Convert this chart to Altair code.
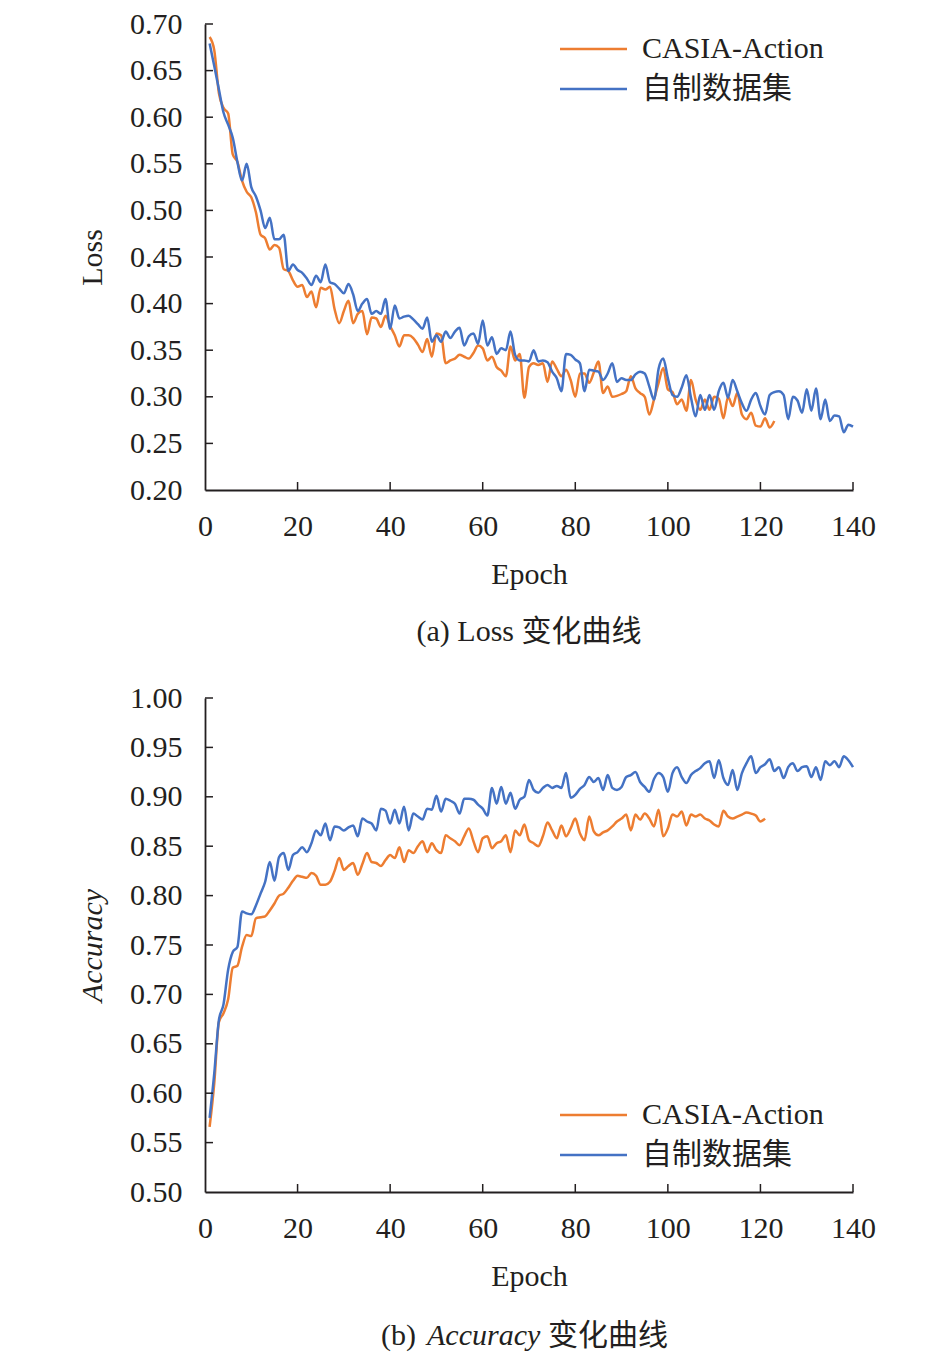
import pandas as pd
import altair as alt

FONT = "Liberation Serif, Times New Roman, Noto Sans CJK SC"
SERIES = ["CASIA-Action", "自制数据集"]
COLORS = ["#ED7D31", "#4472C4"]

# Loss per epoch
loss_casia = [
    0.686, 0.672, 0.626, 0.610, 0.604, 0.560, 0.552, 0.532, 0.520, 0.514,
    0.498, 0.474, 0.470, 0.458, 0.463, 0.460, 0.437, 0.435, 0.425, 0.418,
    0.420, 0.407, 0.413, 0.396, 0.417, 0.415, 0.418, 0.394, 0.379, 0.392,
    0.403, 0.379, 0.389, 0.392, 0.367, 0.385, 0.384, 0.375, 0.387, 0.376,
    0.366, 0.354, 0.366, 0.366, 0.363, 0.356, 0.348, 0.362, 0.343, 0.368,
    0.366, 0.336, 0.339, 0.341, 0.345, 0.343, 0.341, 0.347, 0.355, 0.352,
    0.339, 0.343, 0.332, 0.328, 0.322, 0.354, 0.339, 0.346, 0.299, 0.332,
    0.336, 0.334, 0.336, 0.316, 0.338, 0.330, 0.322, 0.329, 0.318, 0.300,
    0.325, 0.325, 0.315, 0.326, 0.338, 0.304, 0.311, 0.300, 0.301, 0.303,
    0.306, 0.322, 0.309, 0.304, 0.300, 0.281, 0.297, 0.315, 0.331, 0.308,
    0.305, 0.292, 0.297, 0.285, 0.318, 0.297, 0.286, 0.297, 0.286, 0.300,
    0.298, 0.277, 0.300, 0.290, 0.304, 0.281, 0.276, 0.283, 0.269, 0.268,
    0.277, 0.267, 0.274,
]
loss_own = [
    0.679, 0.655, 0.630, 0.605, 0.592, 0.578, 0.552, 0.532, 0.550, 0.525,
    0.515, 0.500, 0.481, 0.492, 0.469, 0.469, 0.474, 0.435, 0.442, 0.436,
    0.433, 0.427, 0.420, 0.430, 0.423, 0.442, 0.423, 0.421, 0.416, 0.411,
    0.421, 0.410, 0.392, 0.400, 0.405, 0.389, 0.392, 0.389, 0.405, 0.373,
    0.398, 0.384, 0.386, 0.387, 0.383, 0.378, 0.373, 0.385, 0.359, 0.366,
    0.359, 0.370, 0.363, 0.370, 0.374, 0.355, 0.365, 0.368, 0.357, 0.382,
    0.355, 0.364, 0.346, 0.352, 0.350, 0.370, 0.345, 0.339, 0.339, 0.338,
    0.350, 0.338, 0.339, 0.337, 0.327, 0.320, 0.306, 0.346, 0.345, 0.340,
    0.336, 0.306, 0.329, 0.328, 0.327, 0.318, 0.325, 0.336, 0.316, 0.320,
    0.318, 0.318, 0.324, 0.327, 0.325, 0.311, 0.297, 0.330, 0.341, 0.320,
    0.302, 0.300, 0.310, 0.323, 0.299, 0.279, 0.302, 0.286, 0.302, 0.286,
    0.306, 0.315, 0.299, 0.318, 0.306, 0.293, 0.285, 0.297, 0.304, 0.290,
    0.281, 0.302, 0.305, 0.306, 0.302, 0.276, 0.300, 0.296, 0.283, 0.308,
    0.285, 0.309, 0.276, 0.297, 0.274, 0.280, 0.279, 0.262, 0.270, 0.268,
]

# Accuracy per epoch
acc_casia = [
    0.566, 0.610, 0.672, 0.681, 0.695, 0.727, 0.729, 0.748, 0.760, 0.759,
    0.777, 0.778, 0.779, 0.785, 0.792, 0.800, 0.802, 0.808, 0.815, 0.820,
    0.819, 0.818, 0.823, 0.820, 0.811, 0.811, 0.814, 0.825, 0.838, 0.826,
    0.830, 0.833, 0.821, 0.832, 0.843, 0.834, 0.833, 0.830, 0.836, 0.841,
    0.838, 0.849, 0.834, 0.846, 0.843, 0.850, 0.855, 0.844, 0.853, 0.846,
    0.843, 0.861, 0.858, 0.855, 0.851, 0.860, 0.868, 0.855, 0.844, 0.858,
    0.860, 0.848, 0.853, 0.855, 0.861, 0.844, 0.866, 0.861, 0.872, 0.856,
    0.853, 0.850, 0.860, 0.874, 0.866, 0.858, 0.871, 0.860, 0.868, 0.878,
    0.863, 0.856, 0.880, 0.865, 0.861, 0.864, 0.866, 0.870, 0.875, 0.878,
    0.882, 0.866, 0.882, 0.877, 0.883, 0.878, 0.870, 0.887, 0.860, 0.868,
    0.882, 0.880, 0.885, 0.871, 0.882, 0.880, 0.882, 0.878, 0.876, 0.872,
    0.870, 0.886, 0.880, 0.878, 0.880, 0.882, 0.884, 0.883, 0.881, 0.875,
    0.878,
]
acc_own = [
    0.575, 0.620, 0.674, 0.690, 0.725, 0.743, 0.748, 0.784, 0.782, 0.781,
    0.790, 0.802, 0.814, 0.834, 0.815, 0.839, 0.843, 0.826, 0.841, 0.844,
    0.849, 0.844, 0.853, 0.866, 0.861, 0.873, 0.856, 0.870, 0.869, 0.866,
    0.869, 0.871, 0.860, 0.878, 0.875, 0.873, 0.866, 0.888, 0.886, 0.873,
    0.887, 0.873, 0.890, 0.866, 0.883, 0.880, 0.877, 0.888, 0.887, 0.901,
    0.885, 0.898, 0.896, 0.893, 0.883, 0.898, 0.898, 0.897, 0.892, 0.888,
    0.881, 0.909, 0.893, 0.910, 0.893, 0.904, 0.888, 0.897, 0.900, 0.917,
    0.907, 0.904, 0.909, 0.912, 0.909, 0.911, 0.909, 0.924, 0.899, 0.902,
    0.908, 0.912, 0.920, 0.915, 0.919, 0.907, 0.922, 0.909, 0.907, 0.910,
    0.920, 0.922, 0.925, 0.915, 0.910, 0.905, 0.918, 0.924, 0.920, 0.905,
    0.924, 0.930, 0.920, 0.914, 0.922, 0.926, 0.929, 0.934, 0.936, 0.919,
    0.937, 0.919, 0.912, 0.927, 0.907, 0.924, 0.934, 0.941, 0.924, 0.930,
    0.933, 0.938, 0.926, 0.930, 0.919, 0.930, 0.934, 0.926, 0.930, 0.931,
    0.920, 0.930, 0.917, 0.936, 0.932, 0.936, 0.930, 0.941, 0.937, 0.930,
]

x_ticks = [20, 40, 60, 80, 100, 120, 140]
loss_ticks = [0.20, 0.25, 0.30, 0.35, 0.40, 0.45, 0.50, 0.55, 0.60, 0.65, 0.70]
acc_ticks = [0.50, 0.55, 0.60, 0.65, 0.70, 0.75, 0.80, 0.85, 0.90, 0.95, 1.00]


def long_df(a, b):
    rows = []
    for name, vals in zip(SERIES, [a, b]):
        for i, v in enumerate(vals):
            rows.append({"epoch": i + 1, "value": v, "series": name})
    return pd.DataFrame(rows)


W = 648
one = alt.Data(values=[{}])


def legend_marks(first_row_y):
    # hand-drawn legend: short line + label for each series, 40px apart
    out = []
    for k, (name, col) in enumerate(zip(SERIES, COLORS)):
        y = first_row_y + 40 * k
        out.append(alt.Chart(one).mark_rule(color=col, strokeWidth=2.5).encode(
            x=alt.value(355), x2=alt.value(422), y=alt.value(y)))
        out.append(alt.Chart(one).mark_text(
            font=FONT, fontSize=30, align="left", baseline="middle", color="#231f20"
        ).encode(x=alt.value(437), y=alt.value(y), text=alt.value(name)))
    return out


def panel(df, ticks, ytitle, ytitle_italic, h, legend_y):
    xs = alt.Scale(domain=[0, 140], nice=False, zero=False)
    ys = alt.Scale(domain=[ticks[0], ticks[-1]], nice=False, zero=False)
    xaxis = alt.Axis(values=[0] + x_ticks, title="Epoch", ticks=False, tickSize=0,
                     labelPadding=21, titlePadding=18, grid=False, labelFlush=False)
    yaxis = alt.Axis(values=ticks, format=".2f", title=ytitle, ticks=False, tickSize=0,
                     labelPadding=23, titlePadding=22, grid=False, labelFlush=False,
                     titleFontStyle="italic" if ytitle_italic else "normal")
    lines = alt.Chart(df).mark_line(strokeWidth=2.5, interpolate="monotone").encode(
        x=alt.X("epoch:Q", scale=xs, axis=xaxis),
        y=alt.Y("value:Q", scale=ys, axis=yaxis),
        color=alt.Color("series:N", scale=alt.Scale(domain=SERIES, range=COLORS),
                        legend=None),
    )
    ytick = alt.Chart(pd.DataFrame({"value": ticks[1:]})).mark_rule(
        color="#231f20", strokeWidth=1.5).encode(
        y=alt.Y("value:Q", scale=ys, axis=yaxis),
        x=alt.value(0), x2=alt.value(8),
    )
    xtick = alt.Chart(pd.DataFrame({"epoch": x_ticks})).mark_rule(
        color="#231f20", strokeWidth=1.5).encode(
        x=alt.X("epoch:Q", scale=xs, axis=xaxis),
        y=alt.value(h), y2=alt.value(h - 8),
    )
    return alt.layer(lines, ytick, xtick, *legend_marks(legend_y)).properties(width=W, height=h)


H1 = 466
cap_a = alt.Chart(one).mark_text(font=FONT, fontSize=30, align="center", baseline="middle",
                                 color="#231f20").encode(
    x=alt.value(W / 2), y=alt.value(H1 + 142), text=alt.value("(a) Loss 变化曲线"))

H2 = 494
cap_b_parts = [
    ("(b)", "normal", 176),
    ("Accuracy", "italic", 222),
    ("变化曲线", "normal", 343),
]
cap_b = [
    alt.Chart(one).mark_text(font=FONT, fontSize=30, align="left", baseline="middle",
                             fontStyle=st, color="#231f20").encode(
        x=alt.value(px), y=alt.value(H2 + 144), text=alt.value(t))
    for t, st, px in cap_b_parts
]

top = alt.layer(panel(long_df(loss_casia, loss_own), loss_ticks, "Loss", False, H1, 25), cap_a)
bottom = alt.layer(panel(long_df(acc_casia, acc_own), acc_ticks, "Accuracy", True, H2, 417),
                   *cap_b)

chart = (
    alt.vconcat(top, bottom, spacing=36)
    .properties(padding={"left": 69, "top": 1, "right": 5, "bottom": 5})
    .configure_view(stroke=None)
    .configure_axis(
        labelFont=FONT, titleFont=FONT, labelFontSize=30, titleFontSize=30,
        titleFontWeight="normal", labelColor="#231f20", titleColor="#231f20",
        domainColor="#231f20", domainWidth=1.8,
    )
)

chart.save("out.html", embed_options={"renderer": "svg", "actions": False})
